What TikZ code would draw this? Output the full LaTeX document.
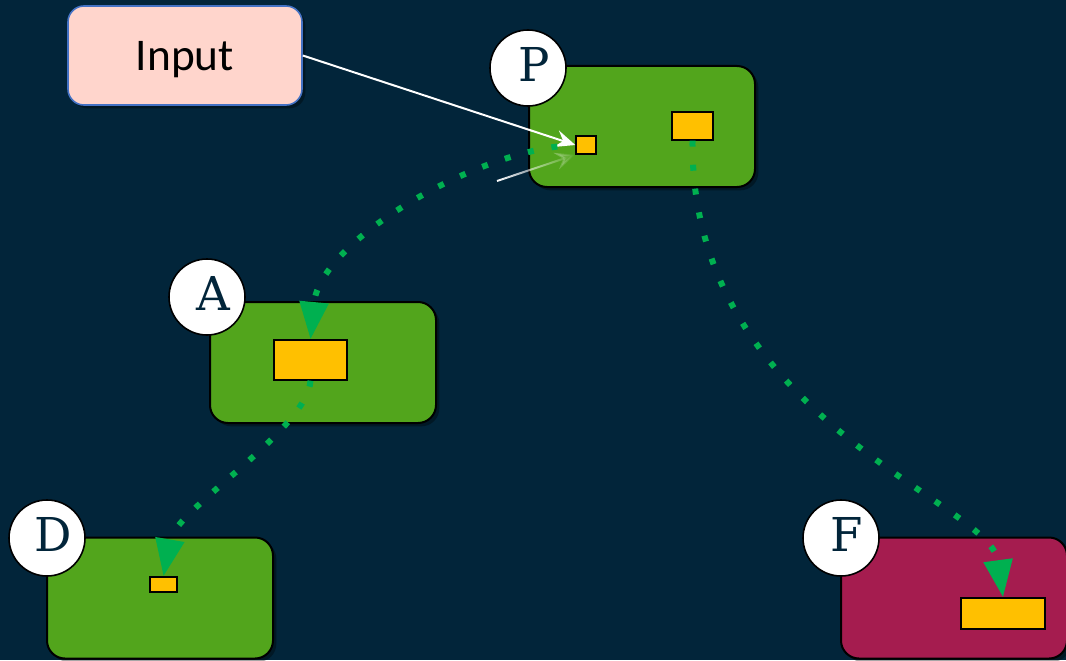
\documentclass[tikz,border=0pt]{standalone}
\usepackage{fontspec}
\usepackage{xcolor}
\usetikzlibrary{positioning, arrows.meta, shadows, fadings}
\newfontfamily\boxfont{Carlito}
\newfontfamily\tagfont{DejaVu Serif}
\definecolor{navy}{HTML}{02253A}
\definecolor{cardgreen}{HTML}{52A51C}
\definecolor{cardred}{HTML}{A51C4F}
\definecolor{slotyellow}{HTML}{FFC000}
\definecolor{linkgreen}{HTML}{00B050}
\definecolor{inputpink}{HTML}{FFD5CC}
\definecolor{inputblue}{HTML}{4472C4}

\begin{document}
\begin{tikzpicture}[x=0.75pt, y=-0.75pt,
    card/.style={rectangle, rounded corners=13.5pt, draw=black, line width=1.5pt,
        minimum width=169.5pt, minimum height=90.75pt,
        drop shadow={shadow xshift=2.5pt, shadow yshift=-2.5pt, opacity=0.35, fill=black}},
    tag/.style={circle, draw=black, line width=1.2pt, fill=white, minimum size=57pt,
        inner sep=0pt, text depth=5pt, text=navy, font=\tagfont\fontsize{35}{38}\selectfont},
    slot/.style={rectangle, draw=black, line width=1.1pt, fill=slotyellow, inner sep=0pt},
    link/.style={draw=linkgreen, line width=4.5pt, dash pattern=on 4.5pt off 13.5pt,
        -{Triangle[length=28pt, width=21pt]}},
    feed/.style={white, line width=1.5pt, -{Stealth[length=15pt, width=13pt, inset=5.5pt]}}]

    \fill[navy] (0,0) rectangle (1066,660);
    \useasboundingbox (0,0) rectangle (1066,660);

    \node[rectangle, rounded corners=12pt, draw=inputblue, line width=1.2pt, fill=inputpink,
        minimum width=175.5pt, minimum height=74.25pt, text depth=0pt,
        drop shadow={shadow xshift=2.5pt, shadow yshift=-2.5pt, opacity=0.35, fill=black},
        font=\boxfont\fontsize{34}{38}\selectfont] (input) at (185, 55.5) {Input};

    \node[card, fill=cardgreen] (pbox) at (642, 126.5) {};
    \node[card, fill=cardgreen] (abox) at (323, 362.5) {};
    \node[card, fill=cardgreen] (dbox) at (160, 598) {};
    \node[card, fill=cardred] (fbox) at (954, 598) {};

    \node[tag] (ptag) at (528, 68) {\hspace*{10pt}P};
    \node[tag] (atag) at (207, 297) {\hspace*{10pt}A};
    \node[tag] (dtag) at (47, 538) {\hspace*{10pt}D};
    \node[tag] (ftag) at (841, 538) {\hspace*{8pt}F};

    \node[slot, minimum width=15pt, minimum height=13.5pt] (psmall) at (586, 145) {};
    \node[slot, minimum width=30.75pt, minimum height=21pt] (pbig) at (692.5, 126) {};
    \node[slot, minimum width=54.75pt, minimum height=30pt] (aslot) at (310.5, 360) {};
    \node[slot, minimum width=20.25pt, minimum height=11.25pt] (dslot) at (163.5, 584.5) {};
    \node[slot, minimum width=63pt, minimum height=23.25pt] (fslot) at (1003, 613.5) {};

    % input feeds P
    \draw[feed] (input.east) -- (psmall.west);
    \coordinate (glow) at (497, 181);
    \draw[feed, path fading=east] (glow) -- (psmall.south west);

    % dotted links
    \draw[link, dash phase=4.5pt] (psmall.west) .. controls (480, 148) and (320, 240) .. (aslot.north);
    \draw[link] (aslot.south) .. controls (307, 430) and (175, 510) .. (dslot.north);
    \draw[link] (pbig.south) .. controls (690, 420) and (990, 500) .. (fslot.north);
\end{tikzpicture}
\end{document}
